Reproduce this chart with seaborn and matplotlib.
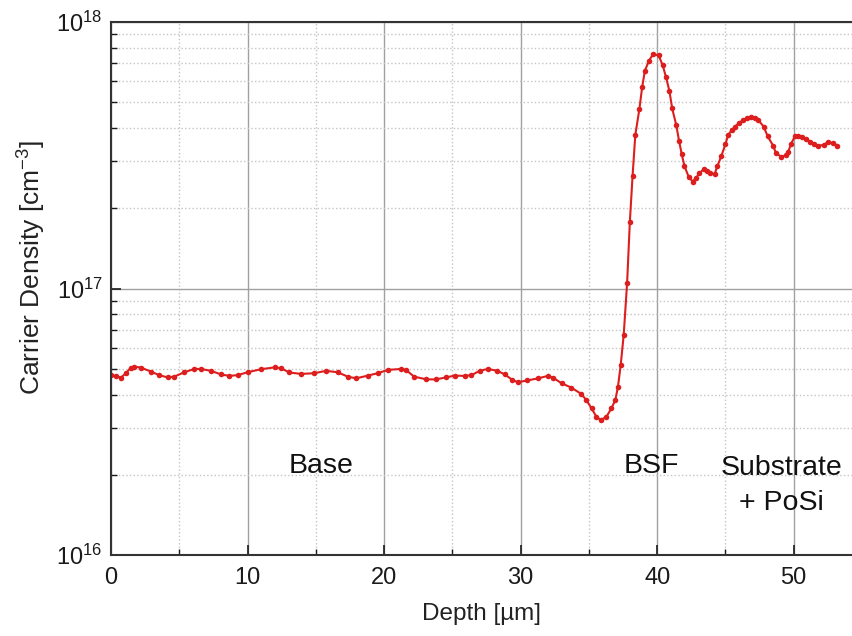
import matplotlib
matplotlib.use("Agg")
import matplotlib.pyplot as plt
import seaborn as sns
import pandas as pd
from matplotlib.ticker import MultipleLocator, LogLocator, LogFormatterSciNotation, NullFormatter

# ---- data ----
depth_um = [
    0.0, 0.36, 0.73, 1.09, 1.46, 1.70, 2.19, 2.92, 3.53, 4.14, 4.63, 5.37, 6.10, 6.59,
    7.32, 8.06, 8.67, 9.28, 10.0, 11.0, 12.0, 12.46, 13.07, 13.92, 14.9, 15.75, 16.6,
    17.34, 17.95, 18.8, 19.54, 20.27, 21.25, 21.6, 22.2, 23.1, 23.8, 24.55, 25.16,
    25.9, 26.4, 27.0, 27.6, 28.3, 28.83, 29.4, 29.8, 30.5, 31.27, 32.0, 32.37, 33.0,
    33.7, 34.45, 34.8, 35.2, 35.55, 35.87, 36.28, 36.65, 36.94, 37.13, 37.33, 37.55,
    37.8, 38.0, 38.2, 38.4, 38.7, 38.9, 39.1, 39.4, 39.7, 40.1, 40.4, 40.65, 40.9,
    41.1, 41.4, 41.6, 41.8, 42.0, 42.3, 42.6, 42.85, 43.1, 43.4, 43.65, 43.9, 44.2,
    44.4, 44.7, 45.0, 45.2, 45.45, 45.7, 46.0, 46.3, 46.6, 46.9, 47.15, 47.4, 47.8,
    48.1, 48.5, 48.7, 49.1, 49.4, 49.6, 49.8, 50.1, 50.35, 50.6, 50.9, 51.2, 51.5,
    51.8, 52.2, 52.5, 52.9, 53.2,
]
carrier_density = [
    4.73e16, 4.70e16, 4.63e16, 4.81e16, 5.05e16, 5.09e16, 5.05e16, 4.88e16, 4.73e16,
    4.64e16, 4.67e16, 4.85e16, 4.99e16, 4.99e16, 4.91e16, 4.76e16, 4.70e16, 4.73e16,
    4.85e16, 4.98e16, 5.06e16, 5.02e16, 4.84e16, 4.78e16, 4.81e16, 4.91e16, 4.85e16,
    4.67e16, 4.60e16, 4.71e16, 4.81e16, 4.95e16, 4.99e16, 4.95e16, 4.67e16, 4.56e16,
    4.56e16, 4.64e16, 4.71e16, 4.70e16, 4.73e16, 4.91e16, 4.99e16, 4.91e16, 4.76e16,
    4.54e16, 4.45e16, 4.52e16, 4.60e16, 4.70e16, 4.63e16, 4.41e16, 4.25e16, 4.02e16,
    3.82e16, 3.55e16, 3.30e16, 3.21e16, 3.30e16, 3.55e16, 3.82e16, 4.28e16, 5.16e16,
    6.70e16, 1.05e17, 1.78e17, 2.65e17, 3.77e17, 4.72e17, 5.69e17, 6.56e17, 7.16e17,
    7.57e17, 7.50e17, 6.90e17, 6.20e17, 5.50e17, 4.74e17, 4.10e17, 3.59e17, 3.19e17,
    2.88e17, 2.63e17, 2.52e17, 2.60e17, 2.71e17, 2.80e17, 2.76e17, 2.72e17, 2.68e17,
    2.87e17, 3.14e17, 3.48e17, 3.77e17, 3.92e17, 4.05e17, 4.18e17, 4.29e17, 4.36e17,
    4.41e17, 4.37e17, 4.29e17, 4.05e17, 3.72e17, 3.43e17, 3.22e17, 3.12e17, 3.16e17,
    3.26e17, 3.48e17, 3.74e17, 3.74e17, 3.70e17, 3.63e17, 3.56e17, 3.49e17, 3.43e17,
    3.46e17, 3.54e17, 3.51e17, 3.44e17,
]
region_labels = ["Base", "BSF", "Substrate\n+ PoSi"]
region_x = [15.4, 39.6, 49.1]
region_y = [2.16e16, 2.16e16, 1.82e16]

x_ticks = [0, 10, 20, 30, 40, 50]

# ---- styling ----
sns.set_theme(style="white")
plt.rcParams["font.family"] = ["Liberation Sans", "DejaVu Sans"]
plt.rcParams["mathtext.fontset"] = "custom"
plt.rcParams["mathtext.rm"] = "Liberation Sans"
plt.rcParams["mathtext.it"] = "Liberation Sans:italic"

red = "#dc1e1e"

fig = plt.figure(figsize=(8.53, 6.36), dpi=100)
ax = fig.add_axes([111 / 853, (636 - 555) / 636, (852 - 111) / 853, (555 - 22) / 636])

df = pd.DataFrame({"Depth": depth_um, "Density": carrier_density})
sns.lineplot(data=df, x="Depth", y="Density", ax=ax, color=red, linewidth=1.5,
             marker="o", markersize=4.0, markeredgewidth=0, estimator=None, sort=False)

ax.set_yscale("log")
ax.set_ylim(1e16, 1e18)
ax.set_xlim(0, 54.27)

ax.xaxis.set_major_locator(MultipleLocator(10))
ax.xaxis.set_minor_locator(MultipleLocator(5))
ax.set_xticks(x_ticks)
ax.yaxis.set_major_locator(LogLocator(base=10, numticks=10))
ax.yaxis.set_minor_locator(LogLocator(base=10, subs=range(2, 10), numticks=20))
ax.yaxis.set_major_formatter(LogFormatterSciNotation())
ax.yaxis.set_minor_formatter(NullFormatter())

ax.grid(which="major", color="#a0a0a0", linestyle="-", linewidth=1.0)
ax.grid(which="minor", color="#c4c4c4", linestyle=":", linewidth=1.0)
ax.set_axisbelow(True)

ax.tick_params(axis="both", which="major", direction="in", length=7, width=1.2,
               labelsize=17, colors="#1a1a1a")
ax.tick_params(axis="x", which="major", pad=9)
ax.tick_params(axis="y", which="major", pad=6)
ax.tick_params(axis="both", which="minor", direction="in", length=4, width=1.0,
               colors="#1a1a1a")
ax.tick_params(axis="x", which="both", bottom=True, top=False)
ax.tick_params(axis="y", which="both", left=True, right=False)

for side in ["left", "bottom", "top"]:
    ax.spines[side].set_visible(True)
    ax.spines[side].set_color("#333333")
    ax.spines[side].set_linewidth(1.5)
ax.spines["right"].set_visible(False)

ax.set_xlabel("Depth [µm]", fontsize=17.5, color="#222222", labelpad=10)
ax.set_ylabel("Carrier Density [cm$^{-3}$]", fontsize=19, color="#222222")
ax.yaxis.set_label_coords((48 - 111) / 741, (555 - 267) / 533)

for lab, xx, yy in zip(region_labels, region_x, region_y):
    ax.text(xx, yy, lab, fontsize=20.5, ha="center", va="center",
            multialignment="center", color="#111111", linespacing=1.45)

fig.savefig("out.png", dpi=100)
